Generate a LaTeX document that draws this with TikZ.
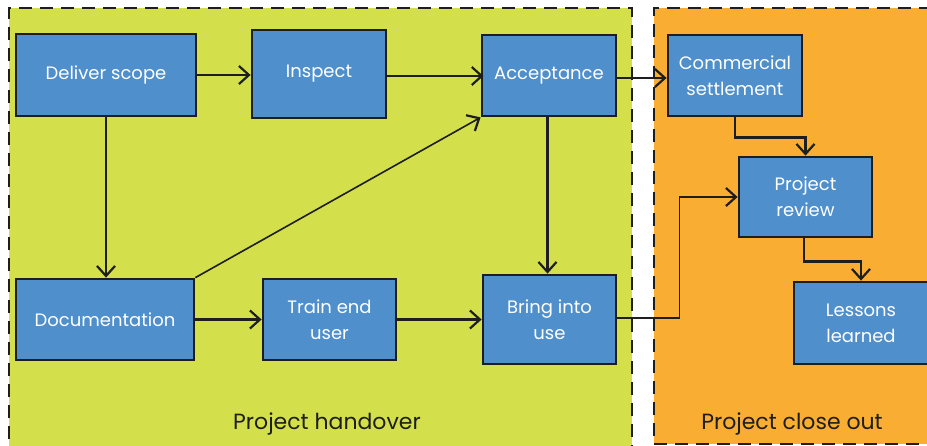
\documentclass[tikz,border=0pt]{standalone}
\usepackage{fontspec}
\setmainfont{Poppins}
\usetikzlibrary{arrows.meta}
\definecolor{grn}{HTML}{D3DF4B}
\definecolor{org}{HTML}{F9AD33}
\definecolor{blu}{HTML}{4F8FCB}
\definecolor{ink}{HTML}{1E1E1E}
\tikzset{
  box/.style={draw=ink, line width=2.8pt, fill=blu, text=white, align=center,
    inner sep=0pt, font=\fontsize{18}{26}\selectfont},
  arr/.style={draw=ink, line width=2.2pt, -{Straight Barb[length=10pt,width=18pt,line width=2.2pt]}},
  region/.style={draw=ink, line width=2.8pt, dash pattern=on 13pt off 8pt},
  lbl/.style={text=ink, font=\fontsize{22}{24}\selectfont}
}
\begin{document}
\begin{tikzpicture}[x=1pt,y=-1pt]
\useasboundingbox (0,0) rectangle (927,445);
\clip (0,0) rectangle (927,445);
% regions
\fill[grn] (9,8) rectangle (632,460);
\fill[org] (654,8) rectangle (940,444);
\draw[region] (9,460) -- (9,8) -- (632,8) -- (632,460);
\draw[region] (940,444) -- (654,444) -- (654,8) -- (940,8);
\node[lbl] (ph) at (327,424) {Project handover};
\node[lbl] (pco) at (792,424) {Project close out};
% boxes
\node[box, minimum width=180pt, minimum height=82pt] (ds) at (106,75) {Deliver scope};
\node[box, minimum width=134pt, minimum height=88pt] (insp) at (319,74) {Inspect};
\node[box, minimum width=134pt, minimum height=81pt] (acc) at (549,75.5) {Acceptance};
\node[box, minimum width=134pt, minimum height=81pt] (cs) at (735,75.5) {Commercial\\settlement};
\node[box, minimum width=133pt, minimum height=80pt] (pr) at (805.5,197) {Project\\review};
\node[box, minimum width=134pt, minimum height=82pt] (ll) at (861,323) {Lessons\\learned};
\node[box, minimum width=178pt, minimum height=81pt] (doc) at (105,319.5) {Documentation};
\node[box, minimum width=133pt, minimum height=81pt] (teu) at (329.5,319.5) {Train end\\user};
\node[box, minimum width=133pt, minimum height=89pt] (biu) at (549.5,319.5) {Bring into\\use};
% connectors
\draw[arr] (ds.east) -- (ds.east -| insp.west);
\draw[arr] (insp.east) ++(0,2) -- ++(96,0);
\draw[arr] ([yshift=-2.5pt]acc.east) -- ([yshift=-2.5pt]acc.east -| cs.west);
\draw[arr] (ds.south) -- (ds.south |- doc.north);
\draw[arr, line width=1.6pt] (doc.north east) -- (acc.south west);
\draw[arr] (doc.east) -- (doc.east -| teu.west);
\draw[arr] (teu.east) -- (teu.east -| biu.west);
\draw[arr] ([xshift=-1.5pt]acc.south) -- ([xshift=-1.5pt]acc.south |- biu.north);
\draw[arr, line width=1.6pt] ([yshift=1.5pt]biu.east) -- ++(62,0) |- (pr.west);
\draw[arr] (cs.south) -- ++(0,20) -| (pr.north);
\draw[arr] ([xshift=-1.5pt]pr.south) -- ++(0,23) -| (ll.north);
\end{tikzpicture}
\end{document}
